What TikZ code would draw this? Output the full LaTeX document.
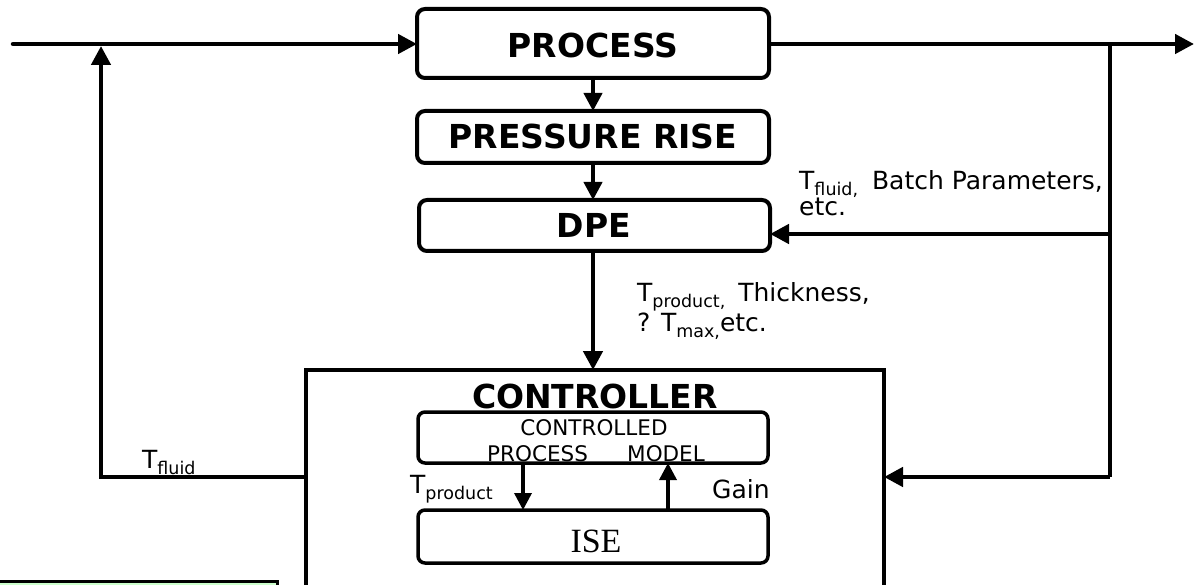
\documentclass[tikz,border=0pt]{standalone}
\usepackage{fontspec}
\setmainfont{DejaVu Sans}
\newfontfamily\seriffont{Liberation Serif}
\usetikzlibrary{arrows.meta}
\definecolor{lightgreen}{HTML}{CCFFCC}
\newcommand\subtx[2][0.26em]{\raisebox{-#1}{\fontsize{17.5}{17.5}\selectfont #2}}
\tikzset{
  line/.style={line width=4.5pt},
  arr/.style={line width=4.5pt,-{Triangle[length=19pt,width=19pt]}},
  sarr/.style={line width=4pt,-{Triangle[length=18pt,width=18pt]}},
  iarr/.style={line width=3.5pt,-{Triangle[length=17pt,width=17pt]}},
  rbox/.style={draw,line width=4pt,rounded corners=8pt},
  boldtxt/.style={font=\fontsize{33}{33}\selectfont\bfseries,inner sep=0},
  lbl/.style={font=\fontsize{25}{25}\selectfont,inner sep=0,anchor=base west},
  lbltwo/.style={font=\fontsize{25}{26}\selectfont,inner sep=0,anchor=base west,align=left},
  small/.style={font=\fontsize{21.5}{22}\selectfont,inner sep=0,anchor=base west}
}
\begin{document}
\begin{tikzpicture}[x=1pt,y=-1pt]
\useasboundingbox (0,0) rectangle (1194,585);
\clip (0,0) rectangle (1194,585);
% boxes
\draw[rbox] (417,9) rectangle (769,78);
\node[boldtxt,anchor=base] (process) at (593,58) {PROCESS};
\coordinate (procT) at (593,9);
\coordinate (procB) at (593,78);
\coordinate (procL) at (417,44);
\coordinate (procR) at (769,44);

\draw[rbox] (417,111) rectangle (769,163);
\node[boldtxt,anchor=base] (press) at (593,149) {PRESSURE RISE};
\coordinate (pressT) at (593,111);
\coordinate (pressB) at (593,163);

\draw[rbox] (419,200) rectangle (770,251);
\node[boldtxt,anchor=base] (dpe) at (594,238) {DPE};
\coordinate (dpeT) at (593,200);
\coordinate (dpeB) at (593,251);
\coordinate (dpeR) at (770,234);

% controller
\draw[line width=3.5pt] (306,370) rectangle (884,640);
\node[boldtxt,anchor=base] (ctrl) at (595,408) {CONTROLLER};
\coordinate (ctrlT) at (593,370);
\coordinate (ctrlL) at (306,477);
\coordinate (ctrlR) at (884,477);

\draw[rbox,line width=3.5pt,rounded corners=7pt] (418,412) rectangle (768,463);
\node[small,anchor=base] (cpm1) at (594,435) {CONTROLLED};
\node[small] (cpm2) at (487,461) {PROCESS};
\node[small] (cpm3) at (627,461) {MODEL};
\coordinate (cpmA) at (523,463);
\coordinate (cpmB) at (668,463);

\draw[rbox,line width=3.5pt,rounded corners=7pt] (418,510) rectangle (768,563);
\node[font=\fontsize{34}{34}\selectfont\seriffont,inner sep=0,anchor=base] (ise) at (596,552) {ISE};
\coordinate (iseA) at (523,510);
\coordinate (iseB) at (668,510);

% green box
\draw[line width=3pt,fill=lightgreen] (-5,581) rectangle (277,620);

% connectors
\coordinate (start) at (13,44);
\coordinate (endR) at (1194,44);
\coordinate (split) at (1110,44);
\coordinate (splitD) at (1110,234);
\coordinate (splitC) at (1110,477);
\coordinate (fbTop) at (101,46);
\coordinate (fbBot) at (101,477);

\draw[arr,line cap=round] (start) -- (procL);
\draw[arr] (procR) -- (endR);
\draw[sarr] (procB) -- (pressT);
\draw[sarr] (pressB) -- (dpeT);
\draw[arr] (dpeB) -- (ctrlT);
\draw[line] (split) -- (splitC);
\draw[arr] (splitD) -- (dpeR);
\draw[arr] (splitC) -- (ctrlR);
\draw[arr,line join=miter] (ctrlL) -- (fbBot) -- (fbTop);
\draw[iarr] (cpmA) -- (iseA);
\draw[iarr] (iseB) -- (cpmB);

% labels (anchor = baseline of the last line)
\node[lbltwo] (l1) at (799,216) {T\subtx[0.22em]{fluid,}\hspace{6pt} Batch Parameters,\\etc.};
\node[lbltwo] (l3) at (637,331) {T\subtx[0.24em]{product,}\hspace{5pt} Thickness,\\? T\subtx{max,}etc.};
\node[lbl] (l5) at (142,468) {T\subtx{fluid}};
\node[lbl] (l6) at (410,493) {T\subtx{product}};
\node[lbl] (l7) at (712,498) {Gain};
\end{tikzpicture}
\end{document}
